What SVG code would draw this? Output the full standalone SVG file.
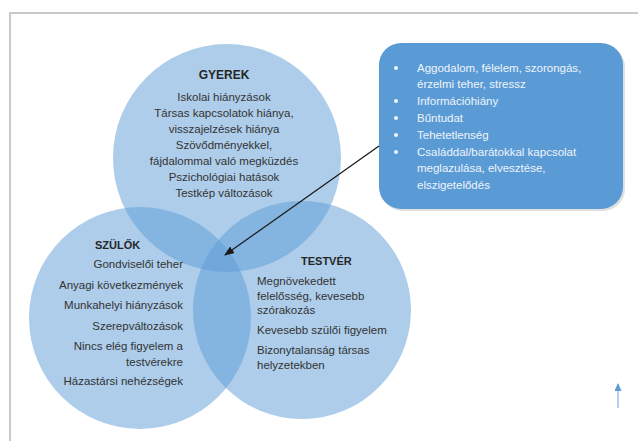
<svg xmlns="http://www.w3.org/2000/svg" width="638" height="441" viewBox="0 0 638 441">
<defs>
<style>
.circ{fill:#5b9bd5;fill-opacity:0.5;}
.t{font-family:"Liberation Sans",Arial,sans-serif;font-size:11.5px;fill:#333333;}
.h{font-family:"Liberation Sans",Arial,sans-serif;font-weight:bold;fill:#262626;}
.b{font-family:"Liberation Sans",Arial,sans-serif;font-size:11.5px;fill:#eef4fb;}
</style>
<marker id="ah" markerWidth="10" markerHeight="8" refX="9" refY="4" orient="auto" markerUnits="userSpaceOnUse">
<path d="M0,0 L10,4 L0,8 Z" fill="#1a1a1a"/>
</marker>
<marker id="ah2" markerWidth="8" markerHeight="7" refX="7" refY="3.5" orient="auto" markerUnits="userSpaceOnUse">
<path d="M0,0 L8,3.5 L0,7 Z" fill="#5b9bd5"/>
</marker>
</defs>
<rect x="0" y="0" width="638" height="441" fill="#ffffff"/>
<rect x="10" y="13" width="640" height="440" fill="none" stroke="#c9c9c9" stroke-width="2"/>

<g id="gyerek">
<circle class="circ" cx="227" cy="158" r="114"/>
<text class="h" x="224" y="79" font-size="12" text-anchor="middle">GYEREK</text>
<g class="t" text-anchor="middle">
<text x="224" y="101">Iskolai hiányzások</text>
<text x="224" y="117">Társas kapcsolatok hiánya,</text>
<text x="224" y="133">visszajelzések hiánya</text>
<text x="224" y="149">Szövődményekkel,</text>
<text x="224" y="165">fájdalommal való megküzdés</text>
<text x="224" y="181">Pszichológiai hatások</text>
<text x="224" y="197">Testkép változások</text>
</g>
</g>

<g id="szulok">
<circle class="circ" cx="140" cy="318" r="111"/>
<text class="h" x="95" y="249" font-size="11">SZÜLŐK</text>
<g class="t" text-anchor="end">
<text x="183" y="268">Gondviselői teher</text>
<text x="183" y="289">Anyagi következmények</text>
<text x="183" y="309">Munkahelyi hiányzások</text>
<text x="183" y="330">Szerepváltozások</text>
<text x="183" y="350">Nincs elég figyelem a</text>
<text x="183" y="366">testvérekre</text>
<text x="183" y="385">Házastársi nehézségek</text>
</g>
</g>

<g id="testver">
<circle class="circ" cx="302" cy="310" r="109"/>
<text class="h" x="301" y="265" font-size="11">TESTVÉR</text>
<g class="t">
<text x="257" y="285">Megnövekedett</text>
<text x="257" y="300">felelősség,  kevesebb</text>
<text x="257" y="314">szórakozás</text>
<text x="257" y="334">Kevesebb szülői figyelem</text>
<text x="257" y="354">Bizonytalanság társas</text>
<text x="257" y="369">helyzetekben</text>
</g>
</g>

<g id="box">
<rect x="381" y="45" width="244" height="166" rx="22" fill="#000000" fill-opacity="0.12"/>
<rect x="379" y="43" width="244" height="166" rx="22" fill="#5b9bd5"/>
<g class="b">
<circle cx="396" cy="68" r="2" fill="#eef4fb"/>
<text x="417" y="72">Aggodalom, félelem, szorongás,</text>
<text x="417" y="88">érzelmi teher, stressz</text>
<circle cx="396" cy="101" r="2" fill="#eef4fb"/>
<text x="417" y="105">Információhiány</text>
<circle cx="396" cy="118" r="2" fill="#eef4fb"/>
<text x="417" y="122">Bűntudat</text>
<circle cx="396" cy="135" r="2" fill="#eef4fb"/>
<text x="417" y="139">Tehetetlenség</text>
<circle cx="396" cy="152" r="2" fill="#eef4fb"/>
<text x="417" y="156">Családdal/barátokkal kapcsolat</text>
<text x="417" y="172">meglazulása, elvesztése,</text>
<text x="417" y="189">elszigetelődés</text>
</g>
</g>

<g id="connectors">
<line x1="379" y1="146" x2="225" y2="255" stroke="#1a1a1a" stroke-width="1.3" marker-end="url(#ah)"/>
<line x1="618" y1="408" x2="618" y2="384" stroke="#9dbfe2" stroke-width="1.5" marker-end="url(#ah2)"/>
</g>
</svg>
